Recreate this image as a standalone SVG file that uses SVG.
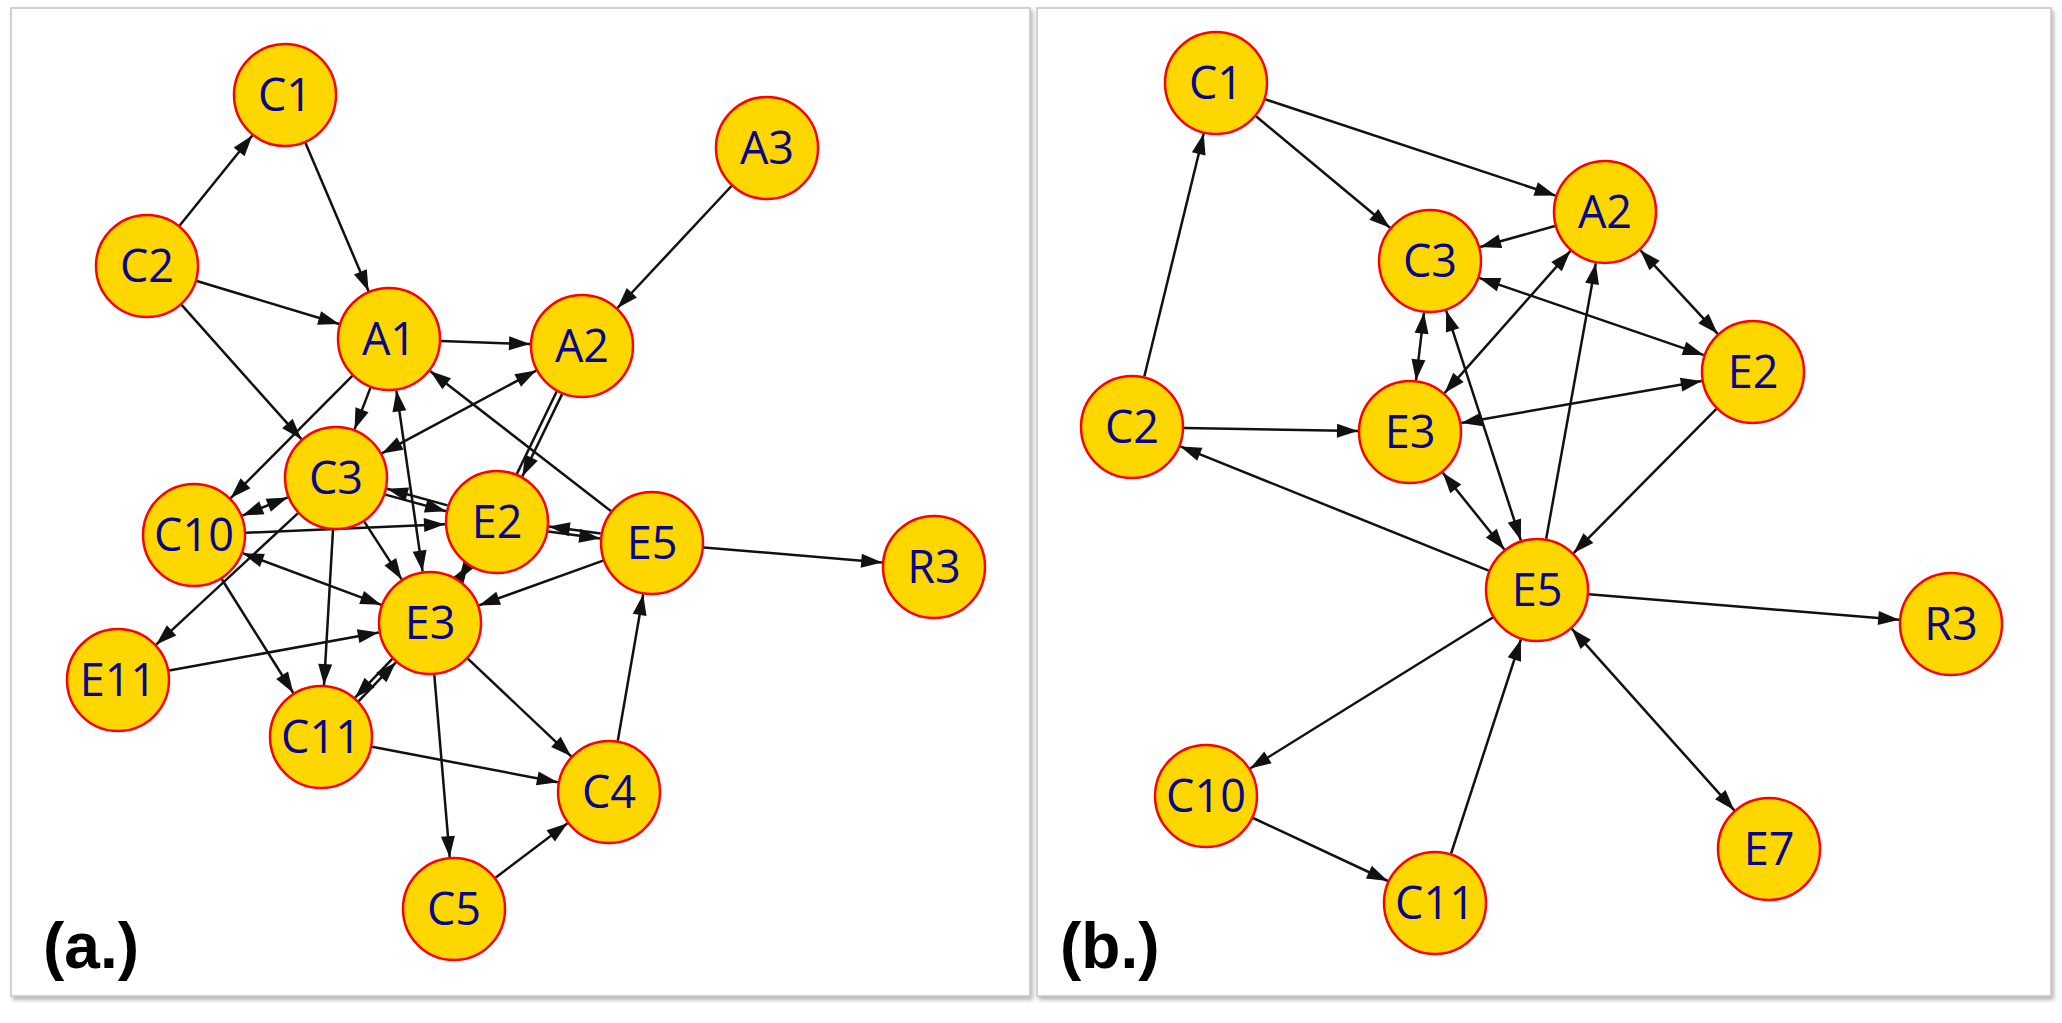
<svg xmlns="http://www.w3.org/2000/svg" width="2062" height="1023" viewBox="0 0 2062 1023">
<style>
.panel{fill:#fff;stroke:#c4c4c4;stroke-width:1.5}
.nd circle{fill:#FFD700;stroke:#F00;stroke-width:2.5}
.nd text{font-family:"Open Sans","Noto Sans",sans-serif;font-size:45px;fill:#07078A;text-anchor:middle}
.lbl{font-family:"Liberation Sans",Arial,sans-serif;font-weight:bold;font-size:64px;fill:#000}
.e{stroke:#111;stroke-width:2.5;fill:none;marker-end:url(#ah)}
.b{marker-start:url(#ah)}
.n{marker-end:none}
</style>
<defs>
<marker id="ah" viewBox="-24 -9 26 18" refX="0" refY="0" markerWidth="26" markerHeight="18" markerUnits="userSpaceOnUse" orient="auto-start-reverse"><path d="M0,0 L-21,-7 L-21,7 z" fill="#111"/></marker>
<filter id="sh" x="-2%" y="-2%" width="104%" height="104%"><feDropShadow dx="2" dy="3" stdDeviation="2" flood-color="#000" flood-opacity="0.3"/></filter>
</defs>
<rect width="2062" height="1023" fill="#fff"/>
<rect class="panel" x="11" y="8" width="1019" height="988" filter="url(#sh)"/>
<rect class="panel" x="1037" y="8" width="1014" height="988" filter="url(#sh)"/>
<g id="connectors">
<!-- panel a -->
<line class="e" x1="179.7" y1="225.5" x2="252.3" y2="135.5"/>
<line class="e" x1="305.4" y1="142.8" x2="368.6" y2="291.2"/>
<line class="e" x1="196.8" y1="281" x2="339.2" y2="324"/>
<line class="e" x1="181.6" y1="304.8" x2="301.4" y2="439.2"/>
<line class="e" x1="731.5" y1="186" x2="617.5" y2="308"/>
<line class="e" x1="441" y1="340.9" x2="530" y2="344.1"/>
<line class="e" x1="352.3" y1="375.9" x2="230.7" y2="498.1"/>
<line class="e" x1="370.5" y1="387.6" x2="354.5" y2="429.4"/>
<line class="e b" x1="396.4" y1="390.5" x2="422.6" y2="571.5"/>
<line class="e b" x1="381.8" y1="453.4" x2="536.2" y2="370.6"/>
<line class="e" x1="610.9" y1="511.1" x2="430.1" y2="370.9"/>
<line class="e" x1="562.1" y1="394.1" x2="522.3" y2="476.5"/>
<line class="e n" x1="556.7" y1="391.5" x2="516.9" y2="473.9"/>
<line class="e" x1="447.6" y1="505.4" x2="387" y2="488.8"/>
<line class="e" x1="385.4" y1="494.6" x2="446" y2="511.2"/>
<line class="e b" x1="242.3" y1="515.6" x2="287.7" y2="497.4"/>
<line class="e" x1="246" y1="532.8" x2="445" y2="524.2"/>
<line class="e" x1="297.8" y1="513.4" x2="156.2" y2="644.6"/>
<line class="e b" x1="242.7" y1="553.2" x2="381.3" y2="604.8"/>
<line class="e" x1="221.7" y1="579" x2="293.3" y2="693"/>
<line class="e" x1="333" y1="529.9" x2="324" y2="685.1"/>
<line class="e" x1="364.3" y1="521.6" x2="401.7" y2="579.4"/>
<line class="e" x1="600.8" y1="533.5" x2="548.8" y2="526.5"/>
<line class="e" x1="548.2" y1="531.5" x2="600.2" y2="538.5"/>
<line class="e" x1="468.2" y1="565.3" x2="458.8" y2="579.7"/>
<line class="e" x1="458.8" y1="579.7" x2="468.2" y2="565.3"/>
<line class="e" x1="603.1" y1="560.6" x2="478.9" y2="605.4"/>
<line class="e" x1="703.8" y1="547.4" x2="882.2" y2="562.6"/>
<line class="e" x1="169.2" y1="670.6" x2="378.8" y2="632.4"/>
<line class="e" x1="392.3" y1="658.9" x2="355.1" y2="697.7"/>
<line class="e" x1="358.7" y1="701.1" x2="395.9" y2="662.3"/>
<line class="e" x1="467.8" y1="658.7" x2="571.2" y2="756.3"/>
<line class="e" x1="434.3" y1="674.8" x2="449.7" y2="857.2"/>
<line class="e" x1="372.1" y1="746.8" x2="557.9" y2="782.2"/>
<line class="e" x1="495.5" y1="877.7" x2="567.5" y2="823.3"/>
<line class="e" x1="617.8" y1="740.8" x2="643.2" y2="594.2"/>
<!-- panel b -->
<line class="e" x1="1144.3" y1="376.5" x2="1203.7" y2="133.5"/>
<line class="e" x1="1256" y1="116.2" x2="1390" y2="227.8"/>
<line class="e" x1="1265.4" y1="99.4" x2="1555.6" y2="195.6"/>
<line class="e" x1="1554.9" y1="226" x2="1480.1" y2="247"/>
<line class="e b" x1="1640.3" y1="250.2" x2="1717.7" y2="333.8"/>
<line class="e b" x1="1479.2" y1="277.9" x2="1703.8" y2="355.1"/>
<line class="e b" x1="1424" y1="312.6" x2="1416" y2="380.4"/>
<line class="e b" x1="1444.5" y1="393.1" x2="1570.5" y2="250.9"/>
<line class="e b" x1="1701.8" y1="380.9" x2="1461.2" y2="423.1"/>
<line class="e" x1="1184" y1="427.9" x2="1358" y2="431.1"/>
<line class="e" x1="1488.7" y1="570.6" x2="1180.3" y2="446.4"/>
<line class="e b" x1="1504.4" y1="549.5" x2="1442.6" y2="472.5"/>
<line class="e b" x1="1446.1" y1="310.4" x2="1520.9" y2="540.6"/>
<line class="e" x1="1546.2" y1="538.8" x2="1595.8" y2="263.2"/>
<line class="e" x1="1716.4" y1="408.9" x2="1573.6" y2="553.1"/>
<line class="e" x1="1588.8" y1="594.3" x2="1899.2" y2="619.7"/>
<line class="e" x1="1492.9" y1="617.5" x2="1250.1" y2="768.5"/>
<line class="e" x1="1253.1" y1="818" x2="1387.9" y2="881"/>
<line class="e" x1="1451.1" y1="853.5" x2="1520.9" y2="639.5"/>
<line class="e b" x1="1571.7" y1="628.7" x2="1734.3" y2="810.3"/>
</g>
<g id="nodes-a">
<g id="a-C1" class="nd"><circle cx="285" cy="95" r="51"/><text x="285" y="111">C1</text></g>
<g id="a-A3" class="nd"><circle cx="767" cy="148" r="51"/><text x="767" y="164">A3</text></g>
<g id="a-C2" class="nd"><circle cx="147" cy="266" r="51"/><text x="147" y="282">C2</text></g>
<g id="a-A1" class="nd"><circle cx="389" cy="339" r="51"/><text x="389" y="355">A1</text></g>
<g id="a-A2" class="nd"><circle cx="582" cy="346" r="51"/><text x="582" y="362">A2</text></g>
<g id="a-C3" class="nd"><circle cx="336" cy="478" r="51"/><text x="336" y="494">C3</text></g>
<g id="a-E2" class="nd"><circle cx="497" cy="522" r="51"/><text x="497" y="538">E2</text></g>
<g id="a-C10" class="nd"><circle cx="194" cy="535" r="51"/><text x="194" y="551">C10</text></g>
<g id="a-E5" class="nd"><circle cx="652" cy="543" r="51"/><text x="652" y="559">E5</text></g>
<g id="a-R3" class="nd"><circle cx="934" cy="567" r="51"/><text x="934" y="583">R3</text></g>
<g id="a-E3" class="nd"><circle cx="430" cy="623" r="51"/><text x="430" y="639">E3</text></g>
<g id="a-E11" class="nd"><circle cx="118" cy="680" r="51"/><text x="118" y="696">E11</text></g>
<g id="a-C11" class="nd"><circle cx="321" cy="737" r="51"/><text x="321" y="753">C11</text></g>
<g id="a-C4" class="nd"><circle cx="609" cy="792" r="51"/><text x="609" y="808">C4</text></g>
<g id="a-C5" class="nd"><circle cx="454" cy="909" r="51"/><text x="454" y="925">C5</text></g>
</g>
<g id="nodes-b">
<g id="b-C1" class="nd"><circle cx="1216" cy="83" r="51"/><text x="1216" y="99">C1</text></g>
<g id="b-A2" class="nd"><circle cx="1605" cy="212" r="51"/><text x="1605" y="228">A2</text></g>
<g id="b-C3" class="nd"><circle cx="1430" cy="261" r="51"/><text x="1430" y="277">C3</text></g>
<g id="b-E2" class="nd"><circle cx="1753" cy="372" r="51"/><text x="1753" y="388">E2</text></g>
<g id="b-C2" class="nd"><circle cx="1132" cy="427" r="51"/><text x="1132" y="443">C2</text></g>
<g id="b-E3" class="nd"><circle cx="1410" cy="432" r="51"/><text x="1410" y="448">E3</text></g>
<g id="b-E5" class="nd"><circle cx="1537" cy="590" r="51"/><text x="1537" y="606">E5</text></g>
<g id="b-R3" class="nd"><circle cx="1951" cy="624" r="51"/><text x="1951" y="640">R3</text></g>
<g id="b-C10" class="nd"><circle cx="1206" cy="796" r="51"/><text x="1206" y="812">C10</text></g>
<g id="b-E7" class="nd"><circle cx="1769" cy="849" r="51"/><text x="1769" y="865">E7</text></g>
<g id="b-C11" class="nd"><circle cx="1435" cy="903" r="51"/><text x="1435" y="919">C11</text></g>
</g>
<text class="lbl" x="43" y="968">(a.)</text>
<text class="lbl" x="1060" y="968">(b.)</text>
</svg>
